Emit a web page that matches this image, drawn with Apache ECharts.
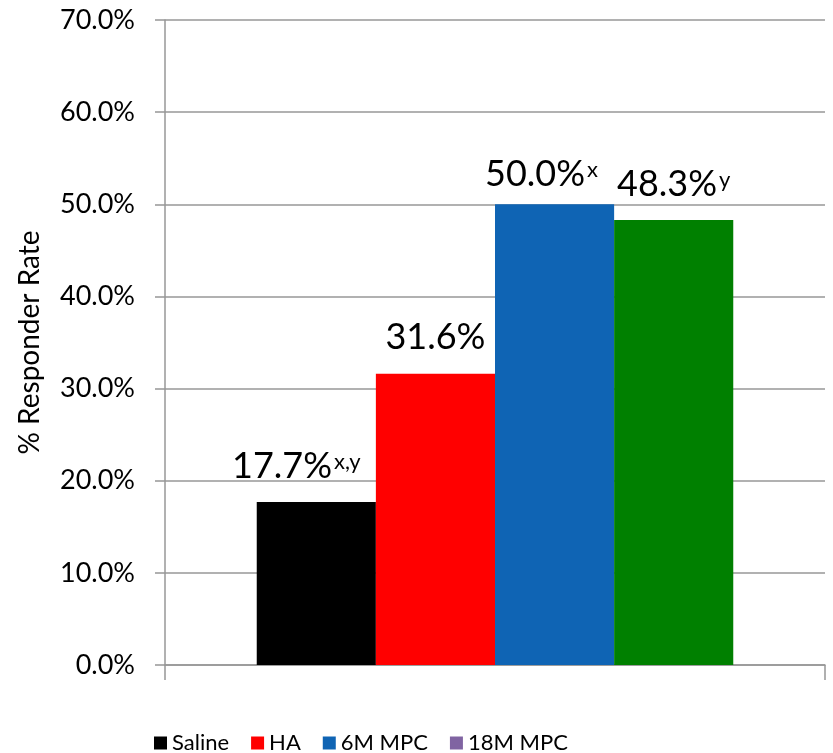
<!DOCTYPE html>
<html>
<head>
<meta charset="utf-8">
<script src="https://cdn.jsdelivr.net/npm/echarts@6/dist/echarts.min.js"></script>
<style>
  html, body { margin: 0; padding: 0; background: #fff; }
  #chart { width: 833px; height: 753px; }
</style>
</head>
<body>
<div id="chart"></div>
<script>
// data
const groups = ['Saline', 'HA', '6M MPC', '18M MPC']
const rates = [17.7, 31.6, 50.0, 48.3]
const marks = ['x,y', '', 'x', 'y']
const yTicks = [0, 10, 20, 30, 40, 50, 60, 70]

const barColors = ['#000000', '#ff0000', '#0f64b4', '#008000']
// legend swatch for the last group is purple in the original
const legendColors = ['#000000', '#ff0000', '#0f64b4', '#8064a2']
const labelOffsets = [[-20, 0], [0, 0], [-13, 6], [0, 0]]

const font = 'Lato'
const gridColor = '#979797'

const myChart = echarts.init(document.getElementById('chart'))

const series = groups.map((name, i) => ({
  name: name,
  type: 'bar',
  barGap: '0%',
  barCategoryGap: '27.8%',
  itemStyle: { color: legendColors[i] },
  data: [{
    value: rates[i],
    itemStyle: { color: barColors[i] }
  }],
  label: {
    show: true,
    position: 'top',
    distance: 18,
    offset: labelOffsets[i],
    formatter: function (p) {
      const txt = '{a|' + p.value.toFixed(1) + '%}'
      return marks[i] ? txt + '{b|' + marks[i] + '}' : txt
    },
    rich: {
      a: { fontFamily: font, fontSize: 36, color: '#000', verticalAlign: 'bottom' },
      b: { fontFamily: font, fontSize: 22, color: '#000', verticalAlign: 'top', padding: [3, 0, 0, 2] }
    }
  }
}))

const option = {
  animation: false,
  backgroundColor: '#fff',
  grid: {
    left: 165,
    right: 8,
    top: 20,
    bottom: 88
  },
  legend: {
    data: groups,
    left: 149,
    top: 727,
    icon: 'rect',
    itemWidth: 13,
    itemHeight: 13,
    itemGap: 22,
    textStyle: { fontFamily: font, fontSize: 22, color: '#000' }
  },
  xAxis: {
    type: 'category',
    data: [''],
    axisLine: { lineStyle: { color: gridColor, width: 1.5 } },
    axisTick: { show: true, length: 15, lineStyle: { color: gridColor, width: 1.5 } },
    axisLabel: { show: false }
  },
  yAxis: {
    type: 'value',
    min: yTicks[0],
    max: yTicks[yTicks.length - 1],
    interval: 10,
    name: '% Responder Rate',
    nameLocation: 'middle',
    nameGap: 121,
    nameTextStyle: { fontFamily: font, fontSize: 28, color: '#000' },
    axisLine: { show: true, lineStyle: { color: gridColor, width: 1.5 } },
    axisTick: { show: true, length: 10, lineStyle: { color: gridColor, width: 1.5 } },
    axisLabel: {
      fontFamily: font,
      fontSize: 27,
      color: '#000',
      margin: 30,
      formatter: v => v.toFixed(1) + '%'
    },
    splitLine: { lineStyle: { color: gridColor, width: 1.5 } }
  },
  series: series
}

myChart.setOption(option)
</script>
</body>
</html>
